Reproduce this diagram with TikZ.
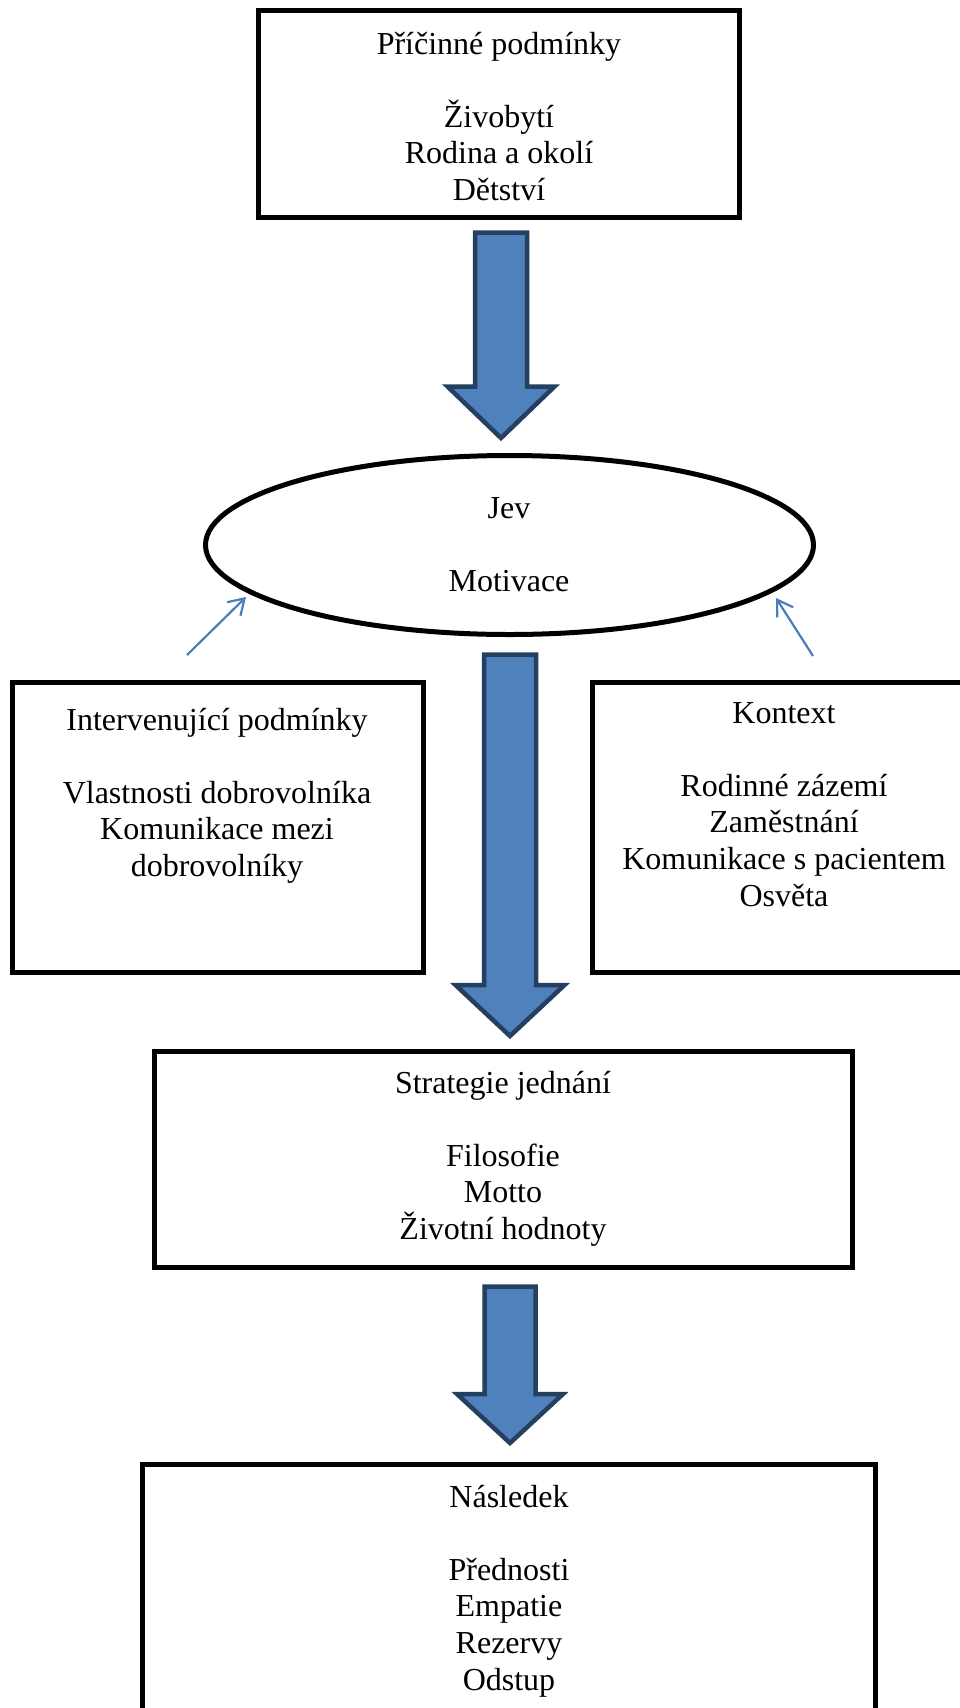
\documentclass[tikz,border=0pt]{standalone}
\usepackage{fontspec}
\setmainfont{Liberation Serif}
\usetikzlibrary{arrows.meta,calc,shapes.geometric}
\definecolor{arrfill}{HTML}{4F81BD}
\definecolor{arrline}{HTML}{243F60}
\definecolor{thinblue}{HTML}{4A7EBB}
\newcommand\BlockArr[5]{% start, end, half shaft, half head, head length
  \draw[blockarrow] let \p1=(#1), \p2=(#2) in
    (\x1-#3pt,\y1) -- (\x1+#3pt,\y1) -- (\x1+#3pt,\y2+#5pt) -- (\x1+#4pt,\y2+#5pt)
    -- (\x2,\y2) -- (\x1-#4pt,\y2+#5pt) -- (\x1-#3pt,\y2+#5pt) -- cycle;}
\begin{document}
\begin{tikzpicture}[x=1pt,y=-1pt,
  box/.style={draw=black, line width=5pt, rectangle, inner sep=0pt, outer sep=0pt},
  oval/.style={draw=black, line width=5pt, ellipse, inner sep=0pt, outer sep=0pt},
  txt/.style={font=\fontsize{32}{36.6}\selectfont, align=center, inner sep=0pt, outer sep=0pt, anchor=north},
  blockarrow/.style={draw=arrline, fill=arrfill, line width=4.5pt, line join=miter},
  thinarrow/.style={draw=thinblue, line width=2.2pt, -{Straight Barb[length=15pt,width=19pt]}}]
\fill[white] (0,0) rectangle (960,1708);
\useasboundingbox (0,0) rectangle (960,1708);
\clip (0,0) rectangle (960,1708);

% shapes
\node[box, minimum width=480.5pt, minimum height=206.7pt] (top) at (498.75,114.15) {};
\node[oval, minimum width=608pt, minimum height=179pt] (jev) at (509.5,545) {};
\node[box, minimum width=411.5pt, minimum height=290pt] (interv) at (217.75,827.5) {};
\node[box, minimum width=383.5pt, minimum height=290pt] (kontext) at (784.25,827.5) {};
\node[box, minimum width=698pt, minimum height=216pt] (strat) at (503,1159) {};
\node[box, minimum width=733pt, minimum height=300pt] (nasl) at (509,1614.5) {};

% texts
\node[txt] (topT) at (499,28.4) {\strut Příčinné podmínky\\\mbox{}\\Živobytí\\Rodina a okolí\\Dětství};
\node[txt] (jevT) at (509,492.4) {\strut Jev\\\mbox{}\\Motivace};
\node[txt] (intervT) at (217,704.4) {\strut Intervenující podmínky\\\mbox{}\\Vlastnosti dobrovolníka\\Komunikace mezi\\dobrovolníky};
\node[txt] (kontextT) at (784,697.4) {\strut Kontext\\\mbox{}\\Rodinné zázemí\\Zaměstnání\\Komunikace s pacientem\\Osvěta};
\node[txt] (stratT) at (503,1067.4) {\strut Strategie jednání\\\mbox{}\\Filosofie\\Motto\\Životní hodnoty};
\node[txt] (naslT) at (509,1481.4) {\strut Následek\\\mbox{}\\Přednosti\\Empatie\\Rezervy\\Odstup};

% block arrows
\coordinate (a1s) at ($(top.south)+(2.25,15)$);
\coordinate (a1e) at ($(jev.north)+(-8.5,-17.5)$);
\coordinate (a2s) at ($(jev.south)+(0.5,20)$);
\coordinate (a2e) at ($(strat.north)+(7,-15)$);
\coordinate (a3s) at ($(strat.south)+(7,19.5)$);
\coordinate (a3e) at ($(nasl.north)+(1,-21.5)$);
\BlockArr{a1s}{a1e}{26}{53.5}{51.5}
\BlockArr{a2s}{a2e}{26}{54.5}{51}
\BlockArr{a3s}{a3e}{25.5}{53}{49}

% thin arrows
\coordinate (lfrom) at (187,655);
\coordinate (lto) at ($(jev.center)+(-263.5,52)$);
\coordinate (rfrom) at (813,656);
\coordinate (rto) at ($(jev.center)+(266.5,53)$);
\draw[thinarrow] (lfrom) -- (lto);
\draw[thinarrow] (rfrom) -- (rto);
\end{tikzpicture}
\end{document}
